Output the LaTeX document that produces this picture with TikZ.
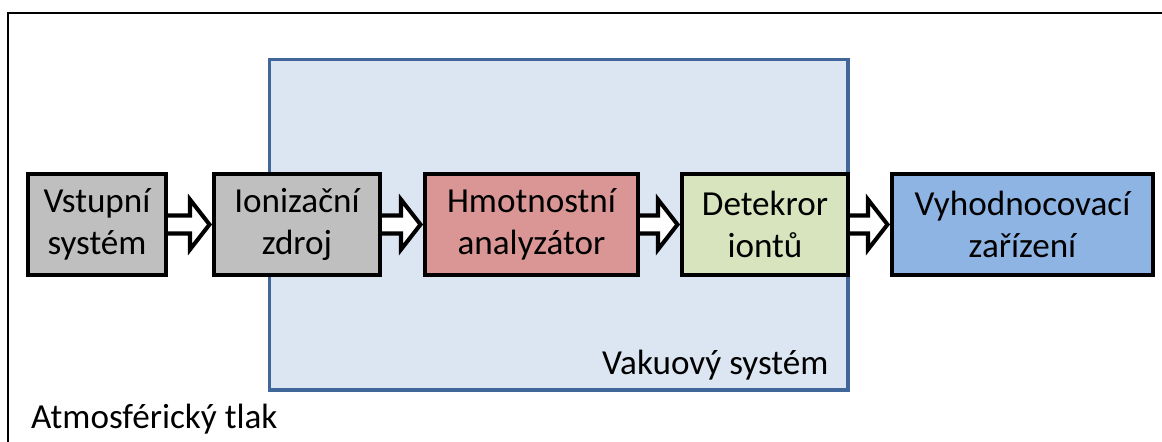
\documentclass[tikz,border=0pt]{standalone}
\usepackage{fontspec}
\setmainfont{Carlito}
\usepackage{tikz}
\usetikzlibrary{positioning}

\definecolor{sedy}{HTML}{BFBFBF}
\definecolor{ruzova}{HTML}{D99694}
\definecolor{zelena}{HTML}{D7E4BD}
\definecolor{modra}{HTML}{8EB4E3}
\definecolor{vakfill}{HTML}{DCE6F2}
\definecolor{vakdraw}{HTML}{41679A}

\begin{document}
\begin{tikzpicture}[x=0.02cm, y=-0.02cm,
  font=\fontsize{20}{23.9}\selectfont,
  node distance=0.82cm,
  stage/.style={draw, line width=2.3pt, minimum height=2.02cm, align=center, inner sep=0pt},
  flow/.style={draw, fill=white, line width=2.3pt,
    to path={([yshift=0.18cm]\tikztostart) -- ([xshift=-0.44cm,yshift=0.18cm]\tikztotarget)
      -- ([xshift=-0.44cm,yshift=0.5cm]\tikztotarget) -- ([xshift=-0.05cm]\tikztotarget)
      -- ([xshift=-0.44cm,yshift=-0.5cm]\tikztotarget) -- ([xshift=-0.44cm,yshift=-0.18cm]\tikztotarget)
      -- ([yshift=-0.18cm]\tikztostart)}}]
\useasboundingbox (0,0) rectangle (1162,441);

% atmosfera
\draw[line width=1.1pt] (8,470) |- (1190,13);
\node[anchor=base west] (atm) at (25,428) {Atmosférický tlak};

% vakuum
\node[draw=vakdraw, fill=vakfill, line width=1.8pt, minimum width=11.57cm,
  minimum height=6.61cm, inner sep=0pt] (vak) at (558.75,224.75) {};
\node[anchor=base east] (vaklbl) at ([xshift=-0.3cm,yshift=0.34cm]vak.south east) {Vakuový systém};

% bloky
\node[stage, fill=sedy, minimum width=2.76cm] (vstup) at (97,224.5) {Vstupní\\systém};
\node[stage, fill=sedy, minimum width=3.32cm, right=0.88cm of vstup] (ion) {Ionizační\\zdroj};
\node[stage, fill=ruzova, minimum width=4.26cm, right=0.82cm of ion] (hmot) {Hmotnostní\\analyzátor};
\node[stage, fill=zelena, minimum width=3.32cm, right=0.8cm of hmot] (det) {Detekror\\iontů};
\node[stage, fill=modra, minimum width=5.22cm, right=0.8cm of det] (vyh) {Vyhodnocovací\\zařízení};

\draw[flow] (vstup.east) to (ion.west);
\draw[flow] (ion.east) to (hmot.west);
\draw[flow] (hmot.east) to (det.west);
\draw[flow] (det.east) to (vyh.west);
\end{tikzpicture}
\end{document}
